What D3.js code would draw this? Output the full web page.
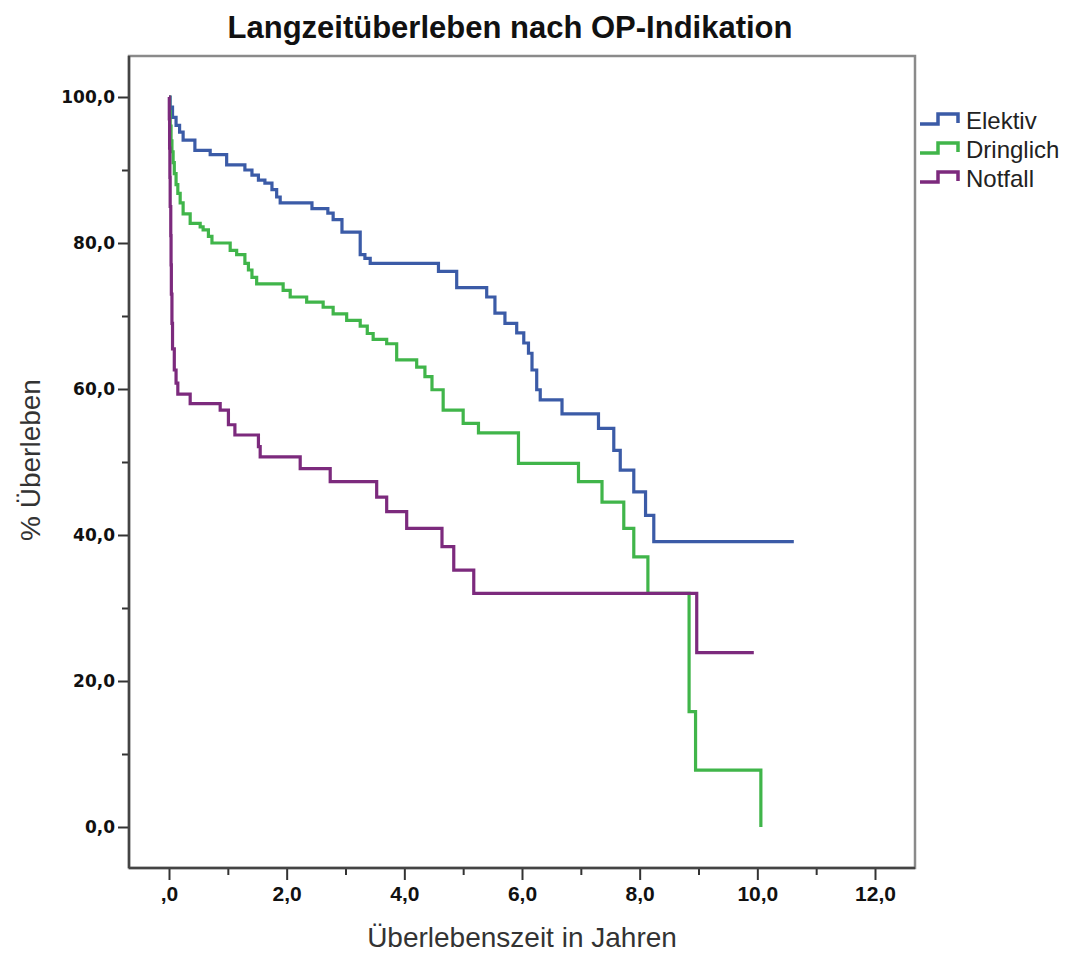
<!DOCTYPE html>
<html lang="de">
<head>
<meta charset="UTF-8">
<title>Langzeitüberleben nach OP-Indikation</title>
<script src="https://cdn.jsdelivr.net/npm/d3@7.8.5/dist/d3.min.js"></script>
<style>
  body { margin: 0; background: #fff; }
  svg { display: block; font-family: "Liberation Sans", Arial, sans-serif; }
  .title { font-size: 31px; font-weight: bold; fill: #111; }
  .axis-title { font-size: 28px; fill: #333; }
  .legend text { font-size: 24px; fill: #222; }
  .curve { fill: none; stroke-width: 3.2px; }
</style>
</head>
<body>
<svg id="chart" width="1071" height="956"></svg>
<script>
// survival curves: [years, % surviving]
const elektiv = [
  [0, 100], [0.02, 98.6], [0.06, 97.2], [0.12, 96.1], [0.18, 95.2], [0.24, 94.1],
  [0.44, 92.7], [0.70, 92.1], [0.98, 90.7], [1.29, 90.0], [1.41, 89.3], [1.52, 88.6],
  [1.63, 88.2], [1.75, 87.3], [1.83, 86.3], [1.89, 85.5], [2.43, 84.7], [2.70, 84.1],
  [2.79, 83.2], [2.94, 81.5], [3.25, 78.4], [3.33, 77.9], [3.42, 77.2], [4.58, 76.1],
  [4.89, 73.9], [5.40, 72.6], [5.54, 70.4], [5.71, 69.0], [5.91, 67.7], [6.03, 66.3],
  [6.11, 64.9], [6.17, 62.6], [6.25, 59.9], [6.31, 58.5], [6.68, 56.6], [7.30, 54.6],
  [7.56, 51.6], [7.67, 48.9], [7.90, 45.9], [8.10, 42.7], [8.24, 39.1], [10.62, 39.1]
];
const dringlich = [
  [0, 100], [0.01, 98], [0.02, 96], [0.035, 94], [0.05, 92.5], [0.07, 91], [0.09, 89.5],
  [0.12, 88], [0.15, 86.8], [0.19, 85.5], [0.24, 84.0], [0.36, 82.7], [0.53, 82.2],
  [0.58, 81.8], [0.67, 80.9], [0.73, 80.0], [1.04, 79.0], [1.15, 78.4], [1.29, 77.2],
  [1.35, 76.3], [1.41, 75.3], [1.49, 74.4], [1.94, 73.5], [2.06, 72.6], [2.34, 71.9],
  [2.62, 71.2], [2.79, 70.3], [3.02, 69.4], [3.25, 68.6], [3.37, 67.6], [3.47, 66.8],
  [3.70, 66.2], [3.87, 64.0], [4.21, 63.0], [4.35, 61.7], [4.47, 59.9], [4.66, 57.1],
  [5.00, 55.3], [5.26, 54.0], [5.94, 49.8], [6.96, 47.3], [7.36, 44.5], [7.73, 40.9],
  [7.90, 37.0], [8.14, 32.0], [8.84, 15.8], [8.95, 7.8], [10.06, 0]
];
const notfall = [
  [0, 100], [0.005, 97], [0.01, 93], [0.015, 89], [0.02, 85], [0.03, 81], [0.035, 77],
  [0.04, 73], [0.05, 69], [0.06, 65.5], [0.09, 62.6], [0.12, 60.8], [0.15, 59.3],
  [0.36, 58.0], [0.87, 57.1], [1.01, 55.1], [1.12, 53.7], [1.52, 52.1], [1.55, 50.7],
  [2.23, 49.1], [2.74, 47.3], [3.53, 45.2], [3.70, 43.2], [4.04, 40.9], [4.64, 38.4],
  [4.84, 35.2], [5.18, 32.0], [8.97, 23.9], [9.94, 23.9]
];

const groups = ["Elektiv", "Dringlich", "Notfall"];
const colors = ["#3b5ba7", "#40b54a", "#7c2a7d"];
const xTicks = [0, 2, 4, 6, 8, 10, 12];
const yTicks = [0, 20, 40, 60, 80, 100];

const svg = d3.select("#chart");

// plot frame
const frame = { left: 129, right: 915, top: 56, bottom: 868 };

const x = d3.scaleLinear().domain([0, 12]).range([169, 875]);
const y = d3.scaleLinear().domain([0, 100]).range([827, 97]);

const fmt = d => d3.format(".1f")(d).replace(".", ",");

svg.append("text")
  .attr("class", "title")
  .attr("x", 510).attr("y", 38)
  .attr("text-anchor", "middle")
  .text("Langzeitüberleben nach OP-Indikation");

svg.append("rect")
  .attr("x", frame.left).attr("y", frame.top)
  .attr("width", frame.right - frame.left)
  .attr("height", frame.bottom - frame.top)
  .attr("fill", "none")
  .attr("stroke", "#8a8a8a")
  .attr("stroke-width", 2.5);

// x axis
const xAxis = svg.append("g")
  .attr("transform", `translate(0,${frame.bottom})`)
  .call(d3.axisBottom(x).tickValues(xTicks).tickSize(12).tickPadding(6)
    .tickFormat(d => d === 0 ? ",0" : fmt(d)));
xAxis.append("g")
  .call(d3.axisBottom(x).tickValues([1, 3, 5, 7, 9, 11]).tickSize(7).tickFormat(""));
xAxis.selectAll(".domain").remove();
xAxis.selectAll("line").attr("stroke", "#333").attr("stroke-width", 2);
xAxis.selectAll("text")
  .attr("fill", "#111")
  .style("font-size", "21px")
  .style("font-weight", "bold")
  .style("font-family", "'Liberation Sans Narrow', 'Liberation Sans', Arial, sans-serif");

// y axis
const yAxis = svg.append("g")
  .attr("transform", `translate(${frame.left},0)`)
  .call(d3.axisLeft(y).tickValues(yTicks).tickSize(11).tickPadding(3).tickFormat(fmt));
yAxis.append("g")
  .call(d3.axisLeft(y).tickValues([10, 30, 50, 70, 90]).tickSize(7).tickFormat(""));
yAxis.selectAll(".domain").remove();
yAxis.selectAll("line").attr("stroke", "#333").attr("stroke-width", 2);
yAxis.selectAll("text")
  .attr("fill", "#111")
  .style("font-size", "17px")
  .style("font-weight", "bold")
  .style("font-family", "'DejaVu Sans', sans-serif");

// darker axis lines on left and bottom
svg.append("line")
  .attr("x1", frame.left).attr("x2", frame.left)
  .attr("y1", frame.top).attr("y2", frame.bottom)
  .attr("stroke", "#444").attr("stroke-width", 2.5);
svg.append("line")
  .attr("x1", frame.left).attr("x2", frame.right)
  .attr("y1", frame.bottom).attr("y2", frame.bottom)
  .attr("stroke", "#444").attr("stroke-width", 2.5);

svg.append("text")
  .attr("class", "axis-title")
  .attr("x", 522).attr("y", 947)
  .attr("text-anchor", "middle")
  .text("Überlebenszeit in Jahren");

svg.append("text")
  .attr("class", "axis-title")
  .attr("transform", "translate(40,460) rotate(-90)")
  .attr("text-anchor", "middle")
  .text("% Überleben");

// curves
const line = d3.line()
  .x(d => x(d[0]))
  .y(d => y(d[1]))
  .curve(d3.curveStepAfter);

[elektiv, dringlich, notfall].forEach((data, i) => {
  svg.append("path")
    .attr("class", "curve")
    .attr("d", line(data))
    .attr("stroke", colors[i]);
});

// legend
const legend = svg.append("g").attr("class", "legend");
groups.forEach((g, i) => {
  const base = 124 + i * 29;
  legend.append("path")
    .attr("d", `M920,${base}H938V${base - 10}H958V${base - 1}`)
    .attr("fill", "none")
    .attr("stroke", colors[i])
    .attr("stroke-width", 3.5);
  legend.append("text")
    .attr("x", 966).attr("y", base + 5)
    .text(g);
});
</script>
</body>
</html>
